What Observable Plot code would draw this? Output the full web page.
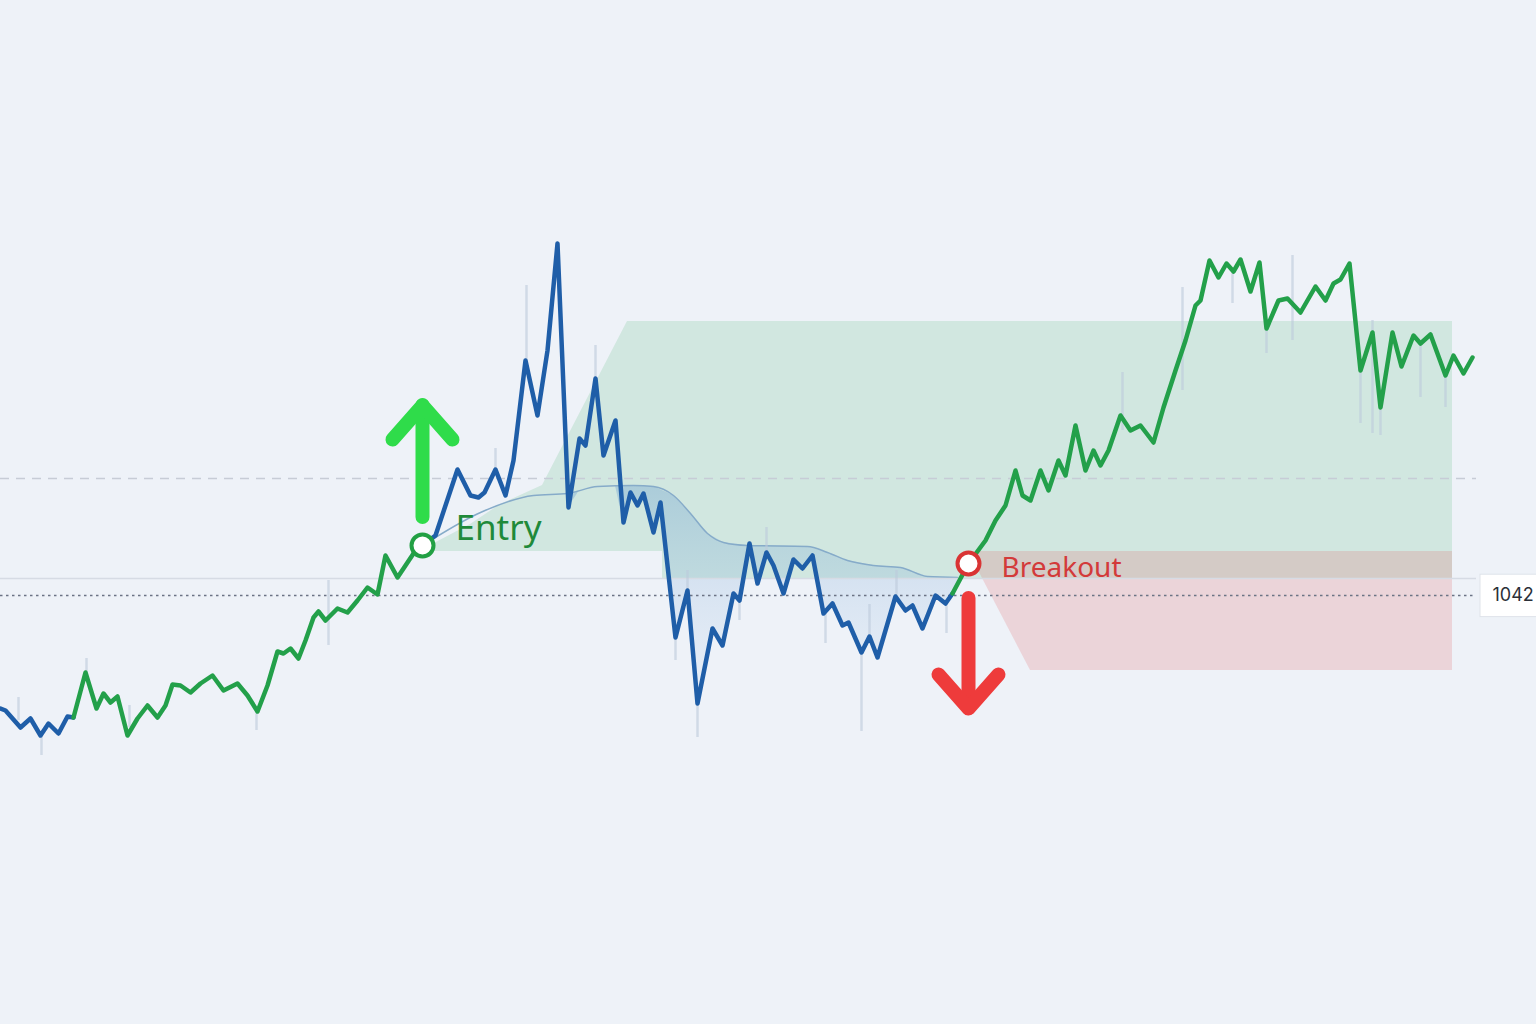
<!DOCTYPE html>
<html><head><meta charset="utf-8">
<script src="https://cdn.jsdelivr.net/npm/d3@7"></script>
<script src="https://cdn.jsdelivr.net/npm/@observablehq/plot@0.6"></script>
<style>
html,body{margin:0;padding:0;background:#eef2f8;overflow:hidden;}
#chart{width:1536px;height:1024px;}
</style>
</head><body><div id="chart"></div>
<script>
// ---- price series (day, price) ----
const days = [0,0.5,2.0,3.0,4.0,4.8,5.8,6.7,7.3,8.5,9.6,10.3,11.0,11.7,12.7,13.7,14.7,15.7,16.5,17.2,18.0,19.0,20.0,21.2,22.3,23.7,24.7,25.7,26.7,27.7,28.3,29.0,29.8,30.5,31.3,31.8,32.5,33.7,34.7,35.7,36.7,37.7,38.5,39.7,40.5,41.3,42.2,43.5,45.7,47.0,47.8,48.4,49.5,50.5,51.3,52.5,53.7,54.7,55.7,56.8,57.9,58.5,59.5,60.3,61.5,62.3,63.0,63.7,64.3,65.3,66.0,67.5,68.7,69.7,71.2,72.2,73.3,73.9,74.9,75.7,76.6,77.3,78.3,79.3,80.2,81.2,82.3,83.2,84.2,84.8,86.1,86.9,87.7,89.5,90.5,91.2,92.2,93.5,94.5,95.2,96.8,98.5,99.5,100.5,101.5,102.2,103.0,104.0,104.8,105.8,106.5,107.5,108.5,109.3,110.0,110.8,112.0,113.0,114.0,115.3,116.3,117.5,118.5,119.5,120.0,120.9,121.8,122.6,123.3,124.0,125.0,125.9,126.6,127.8,128.7,130.0,131.5,132.5,133.3,134.0,134.9,136.0,137.2,138.0,139.2,140.1,141.3,142.0,143.0,144.5,145.3,146.3,147.2];
const prices = [1013.75,1013.25,1009,1011.25,1007,1010,1007.5,1011.75,1011.5,1022.75,1013.75,1017.5,1015.25,1016.75,1007,1011.25,1014.5,1011.5,1014.5,1019.75,1019.5,1017.75,1020,1022,1018.25,1020,1017,1013,1019.5,1028,1027.5,1028.75,1026.25,1030.75,1036.5,1038,1035.75,1038.75,1037.75,1040.75,1044,1042.25,1052,1046.5,1049.5,1052.5,1054.5,1057,1073.5,1067,1066.5,1067.75,1073.5,1067,1075.75,1100.75,1087,1103.25,1130,1064,1081.25,1079.5,1096.25,1077,1085.75,1060.25,1067.75,1064.5,1067.5,1057.75,1065.25,1031.5,1043.25,1015,1033.75,1029.5,1042.5,1040.75,1055,1045,1052.75,1049.5,1042.5,1051,1048.75,1052,1037.5,1040,1034.5,1035.25,1027.75,1031.75,1026.5,1041.75,1038.25,1039.5,1033.75,1042,1040,1042.5,1050,1055.75,1060.75,1064.5,1073.25,1067,1065.75,1073.25,1068.25,1075.75,1072,1084.5,1073.25,1078.25,1074.5,1078.25,1087,1083.25,1084.5,1080.25,1089,1098.25,1105.75,1114.5,1115.75,1125.75,1121.5,1125,1123,1126,1118,1125.25,1108.75,1115.75,1116.25,1112.75,1119.25,1115.75,1120,1121,1125,1098.25,1107.75,1089,1107.75,1099.25,1107,1105,1107.25,1097,1102,1097.5,1101.5];

// regime changes (day) and regime per segment
const regimeBreaks = [7.3, 42.2, 95.2];
const regimes = ["bear", "bull", "bear", "bull"];

// faint high/low wicks
const wickDays = [1.8,4.1,8.6,12.9,25.6,32.8,49.5,52.6,59.5,67.5,68.7,69.7,73.9,76.6,82.5,86.1,86.9,89.6,94.6,112.2,118.2,123.2,126.6,129.2,136.0,137.2,138.0,142.0,144.5];
const wickHigh = [1016.5,1007,1026.25,1014.5,1012.75,1045.75,1078.75,1119.5,1104.5,1031.5,1048.25,1015,1040.75,1059,1037.5,1027.75,1039.75,1048.25,1040,1097.75,1119,1123.25,1108.75,1127,1098.25,1110.75,1089,1105,1097];
const wickLow = [1010.75,1002,1022.75,1009,1008.25,1029.5,1073.25,1100.75,1096.25,1025.75,1043.25,1006.5,1035.75,1052.75,1030,1008,1031.75,1041.75,1032.5,1083.25,1093.25,1115,1102.5,1105.75,1085,1082.5,1082,1091.5,1089];

// smooth band (moving average) curve
const bandDays = [43.0,48.0,53.3,56.7,59.7,63.3,65.3,67.3,69.0,70.7,72.3,74.7,80.7,82.7,84.7,87.3,90.0,92.7,95.7];
const bandPrices = [1055.75,1062.75,1067,1067.5,1069.25,1069.5,1069.25,1067,1062.5,1057.5,1055.25,1054.5,1054.25,1052.75,1050.75,1049.5,1049,1046.75,1046.5];

// target (profit) zone
const targetDays = [43.0,47.0,50.0,54.2,62.7,66.2,66.2,145.2];
const targetLow = [1053,1053,1053,1053,1053,1053,1046.25,1046.25];
const targetHigh = [1054.5,1059.75,1064.75,1069.5,1110.5,1110.5,1110.5,1110.5];

// risk (stop) zone
const riskDays = [97.8,98.2,103.0,145.2];
const riskHigh = [1053,1053,1053,1053];
const riskLow = [1048.25,1046.25,1023.25,1023.25];

// horizontal levels
const resistanceLevel = 1071.25;
const baseLevel = 1046.25;
const markLevel = 1042;
const markLabel = "1042";
const levelEndDay = 147.6;

// signals
const entry = {day: 42.2, price: 1054.5, label: "Entry"};
const breakout = {day: 96.8, price: 1050, label: "Breakout"};
const arrowUp = {day: 42.2, from: 1061.5, to: 1089.5, dir: 1};
const arrowDown = {day: 96.8, from: 1041.25, to: 1013.75, dir: -1};

// ---- build tables ----
const series = days.map((d, i) => ({day: d, price: prices[i]}));
const bounds = [-Infinity, ...regimeBreaks, Infinity];
const segments = [];
regimes.forEach((r, k) => {
  series.filter(p => p.day >= bounds[k] && p.day <= bounds[k + 1])
    .forEach(p => segments.push({...p, seg: k, regime: r}));
});
const wicks = wickDays.map((d, i) => ({day: d, hi: wickHigh[i], lo: wickLow[i]}));
const band = bandDays.map((d, i) => ({day: d, price: bandPrices[i]}));
const target = targetDays.map((d, i) => ({day: d, lo: targetLow[i], hi: targetHigh[i]}));
const risk = riskDays.map((d, i) => ({day: d, lo: riskLow[i], hi: riskHigh[i]}));

const bandAt = d3.scaleLinear().domain(bandDays).range(bandPrices).clamp(true);
const priceAt = d3.scaleLinear().domain(days).range(prices);
const areaDays = Array.from(new Set([...bandDays, ...days.filter(d => d >= 43 && d <= 95.7)])).sort((a, b) => a - b);
const blueArea = areaDays.map(d => ({day: d, top: bandAt(d), bottom: Math.min(priceAt(d), bandAt(d))}));

const levels = [
  {y: resistanceLevel, stroke: "#c7ccd6", dash: "9,7", w: 1.5},
  {y: baseLevel, stroke: "#d6dbe4", dash: null, w: 1.5},
  {y: markLevel, stroke: "#6b7385", dash: "2.5,3.5", w: 1.5}
];

// arrow heads (chevrons) derived from arrow tips
const headHalfWidth = 3.0, headDepth = 8.5;
const heads = [arrowUp, arrowDown].flatMap((a, k) => [
  {day: a.day - headHalfWidth, price: a.to - a.dir * headDepth, k},
  {day: a.day, price: a.to, k},
  {day: a.day + headHalfWidth, price: a.to - a.dir * headDepth, k}
]);
const arrowColors = ["#2fdc4a", "#ee3b3b"];

const defs = () => {
  const g = d3.create("svg:g");
  const lg = g.append("defs").append("linearGradient")
    .attr("id", "blueGrad").attr("x1", 0).attr("x2", 0).attr("y1", 0).attr("y2", 1);
  lg.append("stop").attr("offset", "0%").attr("stop-color", "#5b93cc").attr("stop-opacity", 0.32);
  lg.append("stop").attr("offset", "100%").attr("stop-color", "#a9c8e8").attr("stop-opacity", 0.08);
  return g.node();
};

const plot = Plot.plot({
  width: 1536,
  height: 1024,
  margin: 0,
  style: {background: "#eef2f8", overflow: "visible"},
  x: {domain: [0, 153.6], axis: null},
  y: {domain: [934.75, 1190.75], axis: null},
  marks: [
    defs,
    Plot.areaY(target, {x: "day", y1: "lo", y2: "hi", fill: "#3cad64", fillOpacity: 0.16}),
    Plot.areaY(risk, {x: "day", y1: "lo", y2: "hi", fill: "#e06060", fillOpacity: 0.2}),
    Plot.areaY(blueArea, {x: "day", y1: "top", y2: "bottom", fill: "url(#blueGrad)"}),
    Plot.line(band, {x: "day", y: "price", curve: "monotone-x", stroke: "#86abc9", strokeWidth: 1.5}),
    ...levels.map(l => Plot.ruleY([l.y], {x1: 0, x2: levelEndDay, stroke: l.stroke, strokeWidth: l.w, strokeDasharray: l.dash})),
    Plot.ruleX(wicks, {x: "day", y1: "lo", y2: "hi", stroke: "#bccadb", strokeWidth: 2.5, strokeOpacity: 0.6}),
    Plot.line(segments, {x: "day", y: "price", z: "seg", stroke: d => d.regime === "bull" ? "#23a04a" : "#1f5ea8",
      strokeWidth: 4.5, strokeLinejoin: "round", strokeLinecap: "round"}),
    Plot.ruleX([arrowUp, arrowDown], {x: "day", y1: "from", y2: "to", stroke: (d, i) => arrowColors[i], strokeWidth: 14, strokeLinecap: "round"}),
    Plot.line(heads, {x: "day", y: "price", z: "k", stroke: d => arrowColors[d.k], strokeWidth: 14,
      strokeLinecap: "round", strokeLinejoin: "round"}),
    Plot.dot([entry], {x: "day", y: "price", r: 11, fill: "white", stroke: "#22a044", strokeWidth: 4}),
    Plot.dot([breakout], {x: "day", y: "price", r: 11, fill: "white", stroke: "#d93434", strokeWidth: 4}),
    Plot.text([entry], {x: d => d.day + 3.3, y: d => d.price + 4.2, text: "label", textAnchor: "start",
      fontSize: 35, fill: "#1f8a3a", fontFamily: "Noto Sans"}),
    Plot.text([breakout], {x: d => d.day + 3.3, y: d => d.price - 1.2, text: "label", textAnchor: "start",
      fontSize: 28, fill: "#d33a3a", fontFamily: "Noto Sans"}),
    Plot.rect([markLevel], {x1: 148, x2: 158, y1: d => d - 5.4, y2: d => d + 5.2, fill: "white", stroke: "#dfe3ea", strokeWidth: 1}),
    Plot.text([markLevel], {x: 149.2, y: d => d, text: () => markLabel, textAnchor: "start", fontSize: 18, fill: "#2b2f38", fontFamily: "Inter"})
  ]
});
document.getElementById("chart").append(plot);
</script>
</body></html>
